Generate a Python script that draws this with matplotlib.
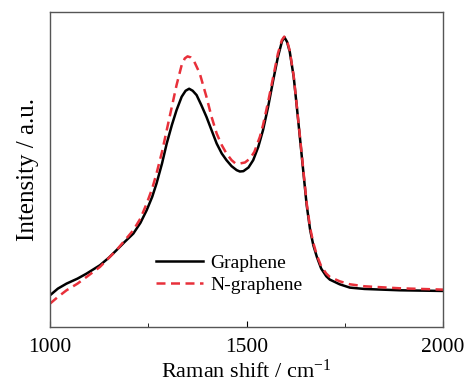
import matplotlib
matplotlib.use('Agg')
import matplotlib.pyplot as plt
from matplotlib.ticker import MultipleLocator, NullLocator

plt.rcParams['font.family'] = 'Liberation Serif'
plt.rcParams['mathtext.default'] = 'regular'

# Data (intensity in arbitrary units)
shift = [1000, 1020, 1042, 1070, 1093, 1127, 1150, 1169, 1190, 1212, 1230,
         1246, 1260, 1271, 1285, 1297, 1310, 1322, 1335, 1345, 1354, 1363,
         1373, 1385, 1398, 1411, 1424, 1437, 1449, 1462, 1475, 1483, 1492,
         1505, 1517, 1530, 1542, 1555, 1568, 1580, 1590, 1596, 1603, 1610,
         1620, 1628, 1636, 1645, 1653, 1662, 1670, 1679, 1690, 1703, 1712,
         1737, 1763, 1800, 1890, 2000]
graphene = [95, 115, 130, 145, 160, 185, 208, 230, 255, 280, 312,
            350, 390, 430, 490, 550, 605, 650, 690, 708, 714, 708,
            695, 665, 630, 590, 550, 520, 500, 482, 470, 466, 467,
            478, 500, 540, 590, 660, 740, 810, 855, 869, 855, 825,
            750, 660, 566, 460, 366, 290, 245, 210, 175, 152, 142,
            128, 118, 114, 110, 108]

shift_n = [1000, 1020, 1042, 1070, 1093, 1127, 1169, 1212, 1230, 1246, 1260,
           1271, 1285, 1297, 1310, 1322, 1335, 1343, 1350, 1358, 1366, 1381,
           1398, 1411, 1424, 1437, 1449, 1462, 1471, 1483, 1496, 1509, 1520,
           1534, 1542, 1555, 1568, 1580, 1590, 1596, 1603, 1610, 1620, 1628,
           1636, 1645, 1653, 1662, 1670, 1679, 1690, 1703, 1712, 1737, 1763,
           1800, 1890, 2000]
n_graphene = [70, 90, 110, 130, 150, 180, 230, 290, 325, 370, 415,
              460, 525, 590, 660, 725, 785, 805, 811, 808, 798, 760,
              690, 630, 580, 545, 520, 500, 491, 490, 493, 505, 525,
              570, 605, 675, 750, 820, 860, 870, 858, 828, 752, 662,
              570, 465, 372, 296, 252, 215, 182, 160, 150, 137, 128,
              122, 116, 112]

fig = plt.figure(figsize=(4.7, 3.89), dpi=100)
ax = fig.add_axes([0.1064, 0.1594, 0.8362, 0.8106])

ax.plot(shift, graphene, color='black', lw=1.8, label='Graphene')
ax.plot(shift_n, n_graphene, color='#e8303a', lw=1.8, ls=(0, (3.6, 2.2)),
        label='N-graphene')

ax.set_xlim(1000, 2000)
ax.set_ylim(0, 945)
ax.xaxis.set_major_locator(MultipleLocator(500))
ax.xaxis.set_minor_locator(MultipleLocator(250))
ax.yaxis.set_major_locator(NullLocator())
ax.tick_params(axis='x', which='both', direction='in', labelsize=15.5, pad=8)
ax.tick_params(axis='x', which='major', length=4)
ax.tick_params(axis='x', which='minor', length=3)
for s in ax.spines.values():
    s.set_color('#555555')
    s.set_linewidth(1.0)

ax.set_xlabel('Raman shift / cm$^{-1}$', fontsize=16, labelpad=2)
ax.set_ylabel('Intensity / a.u.', fontsize=18, labelpad=8)

ax.legend(loc='upper left', bbox_to_anchor=(0.225, 0.285), frameon=False,
          fontsize=14, handlelength=2.4, handletextpad=0.4, labelspacing=0.2)

fig.savefig('out.png', dpi=100)
